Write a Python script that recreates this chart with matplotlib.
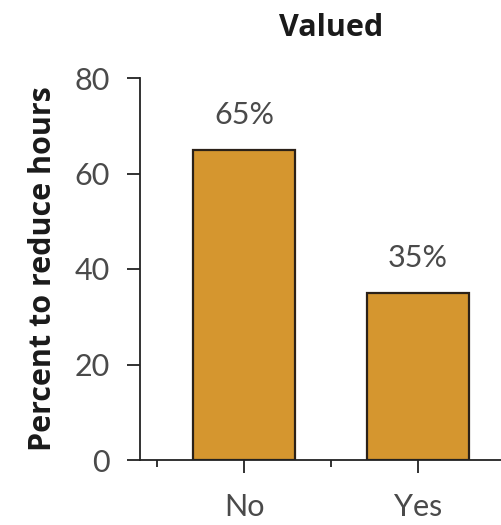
import matplotlib
matplotlib.use("Agg")
import matplotlib.pyplot as plt
from matplotlib.ticker import FixedLocator

categories = ["No", "Yes"]
percents = [65, 35]
value_labels = ["65%", "35%"]
y_ticks = [0, 20, 40, 60, 80]

title_text = "Valued"
y_label_text = "Percent to reduce hours"

bar_color = "#D5962F"
edge_color = "#2b2118"
text_color = "#4a4a4a"

fig = plt.figure(figsize=(5.01, 5.25), dpi=100)
W, H = 501, 525
left_px, right_px, top_px, bottom_px = 140, 522, 78, 460
ax = fig.add_axes([left_px / W, 1 - bottom_px / H,
                   (right_px - left_px) / W, (bottom_px - top_px) / H])

x = list(range(len(categories)))
ax.bar(x, percents, width=0.59, color=bar_color, edgecolor=edge_color,
       linewidth=1.6, zorder=2)

for xi, val, lab in zip(x, percents, value_labels):
    ax.annotate(lab, (xi, val), xytext=(0, 15), textcoords="offset points",
                ha="center", va="bottom", fontsize=22, family="Lato",
                fontweight="normal", color=text_color)

ax.set_xlim(-0.6, 1.6)
ax.set_ylim(0, 80)
ax.set_xticks(x)
ax.set_xticklabels(categories)
ax.xaxis.set_minor_locator(FixedLocator([-0.5, 0.5, 1.5]))
ax.set_yticks(y_ticks)

for s in ["top", "right"]:
    ax.spines[s].set_visible(False)
for s in ["left", "bottom"]:
    ax.spines[s].set_linewidth(1.3)
    ax.spines[s].set_color("#222222")

ax.tick_params(axis="both", which="major", length=9.5, width=1.3,
               color="#222222", labelsize=22, labelcolor=text_color, pad=12)
ax.tick_params(axis="x", which="minor", length=5, width=1.3, color="#222222")
ax.tick_params(axis="x", which="major", pad=14)
for lab in ax.get_xticklabels() + ax.get_yticklabels():
    lab.set_family("Lato")
    lab.set_fontweight("normal")

ax.set_title(title_text, fontsize=22, fontweight="bold", family="Open Sans",
             color="#1a1a1a", pad=30)
ax.set_ylabel(y_label_text, fontsize=22, fontweight="bold", family="Open Sans",
              color="#1a1a1a", labelpad=12)

fig.savefig("out.png", dpi=100)
